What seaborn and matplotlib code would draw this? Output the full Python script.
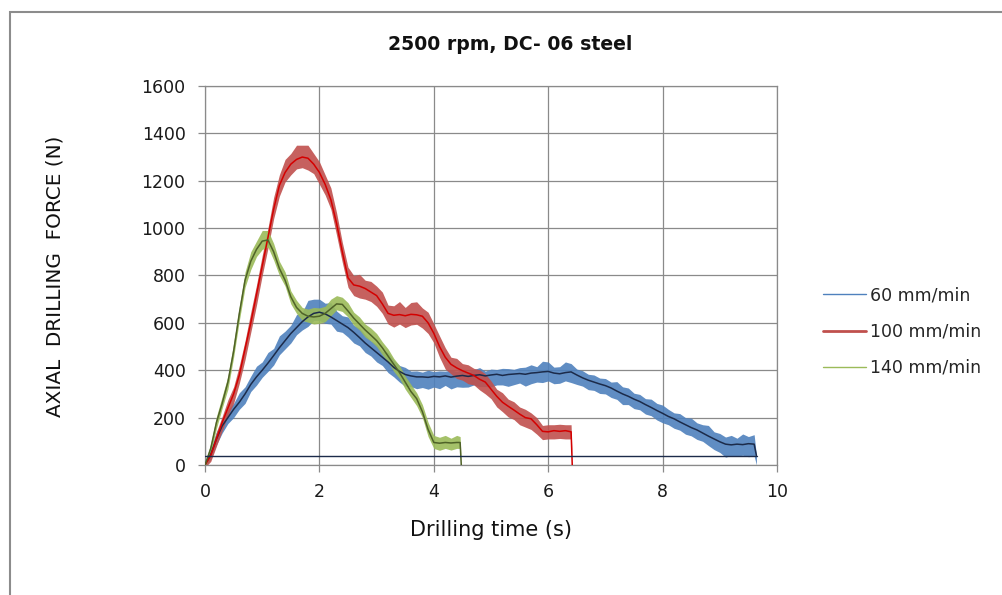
import numpy as np
import pandas as pd
import matplotlib
matplotlib.use("Agg")
import matplotlib.pyplot as plt
from matplotlib.lines import Line2D
from matplotlib.patches import Rectangle
import seaborn as sns

sns.set_theme(style="white")
plt.rcParams["font.family"] = ["DejaVu Sans"]

# ---- data ----
# 60 mm/min: time, smoothed force, noise above / below the smoothed force
t_60 = [0.0, 0.1, 0.2, 0.3, 0.4, 0.5, 0.6, 0.7, 0.8, 0.9,
        1.0, 1.1, 1.2, 1.3, 1.4, 1.5, 1.6, 1.7, 1.8, 1.9,
        2.0, 2.1, 2.2, 2.3, 2.4, 2.5, 2.6, 2.7, 2.8, 2.9,
        3.0, 3.1, 3.2, 3.3, 3.4, 3.5, 3.6, 3.7, 3.8, 3.9,
        4.0, 4.1, 4.2, 4.3, 4.4, 4.5, 4.6, 4.7, 4.8, 4.9,
        5.0, 5.1, 5.2, 5.3, 5.4, 5.5, 5.6, 5.7, 5.8, 5.9,
        6.0, 6.1, 6.2, 6.3, 6.4, 6.5, 6.6, 6.7, 6.8, 6.9,
        7.0, 7.1, 7.2, 7.3, 7.4, 7.5, 7.6, 7.7, 7.8, 7.9,
        8.0, 8.1, 8.2, 8.3, 8.4, 8.5, 8.6, 8.7, 8.8, 8.9,
        9.0, 9.1, 9.2, 9.3, 9.4, 9.5, 9.6, 9.64]
f_60 = [0, 45, 110, 165, 200, 235, 265, 300, 340, 372,
        400, 430, 462, 495, 525, 555, 580, 605, 625, 640,
        645, 638, 625, 610, 595, 580, 560, 538, 515, 495,
        475, 455, 435, 412, 395, 382, 376, 372, 372, 370,
        374, 372, 376, 371, 375, 378, 374, 378, 381, 376,
        380, 383, 378, 382, 384, 386, 383, 388, 390, 393,
        395, 388, 385, 390, 393, 380, 368, 358, 350, 342,
        335, 325, 312, 300, 290, 278, 268, 255, 243, 230,
        218, 205, 195, 182, 170, 158, 148, 135, 122, 110,
        98, 88, 85, 88, 86, 90, 88, 40]
up_60 = [10, 25, 30, 20, 35, 25, 40, 30, 35, 45,
         35, 45, 30, 50, 40, 35, 55, 40, 70, 60,
         55, 45, 60, 40, 35, 45, 30, 40, 35, 30,
         35, 25, 40, 30, 25, 30, 20, 25, 20, 30,
         20, 25, 20, 30, 20, 25, 20, 25, 30, 20,
         25, 20, 30, 25, 20, 25, 30, 35, 25, 45,
         40, 25, 30, 45, 35, 25, 30, 25, 30, 25,
         30, 25, 40, 30, 35, 25, 30, 25, 35, 30,
         35, 30, 25, 35, 30, 40, 30, 35, 45, 30,
         35, 30, 40, 25, 45, 30, 40, 0]
dn_60 = [10, 20, 25, 30, 25, 35, 30, 40, 30, 35,
         30, 35, 40, 30, 35, 40, 30, 35, 40, 30,
         35, 40, 30, 45, 35, 40, 45, 35, 40, 35,
         40, 35, 45, 40, 45, 50, 45, 50, 45, 50,
         45, 50, 40, 50, 45, 50, 45, 40, 50, 45,
         50, 45, 40, 50, 45, 40, 50, 45, 40, 45,
         40, 45, 40, 35, 45, 40, 35, 40, 35, 40,
         35, 40, 35, 45, 35, 40, 35, 40, 35, 40,
         40, 35, 40, 35, 40, 35, 40, 35, 40, 45,
         45, 55, 45, 50, 45, 55, 50, 40]

# 100 mm/min
t_100 = [0.0, 0.1, 0.2, 0.3, 0.4, 0.5, 0.6, 0.7, 0.8, 0.9,
         1.0, 1.1, 1.2, 1.3, 1.4, 1.5, 1.6, 1.7, 1.8, 1.9,
         2.0, 2.1, 2.2, 2.3, 2.4, 2.5, 2.6, 2.7, 2.8, 2.9,
         3.0, 3.1, 3.2, 3.3, 3.4, 3.5, 3.6, 3.7, 3.8, 3.9,
         4.0, 4.1, 4.2, 4.3, 4.4, 4.5, 4.6, 4.7, 4.8, 4.9,
         5.0, 5.1, 5.2, 5.3, 5.4, 5.5, 5.6, 5.7, 5.8, 5.9,
         6.0, 6.1, 6.2, 6.3, 6.4, 6.42]
f_100 = [0, 40, 110, 180, 240, 300, 380, 490, 600, 720,
         840, 960, 1080, 1180, 1235, 1270, 1290, 1300, 1295, 1270,
         1235, 1185, 1120, 1020, 900, 790, 760, 755, 745, 730,
         715, 680, 640, 632, 635, 630, 636, 634, 628, 600,
         556, 500, 455, 425, 410, 398, 388, 378, 362, 350,
         320, 290, 265, 248, 232, 215, 200, 195, 170, 142,
         140, 145, 142, 145, 140, 0]
up_100 = [10, 20, 30, 25, 35, 30, 40, 35, 45, 40,
          45, 40, 50, 45, 55, 45, 60, 50, 55, 45,
          45, 40, 50, 45, 40, 45, 40, 50, 35, 45,
          40, 50, 35, 40, 55, 35, 50, 55, 35, 45,
          40, 45, 40, 30, 40, 30, 35, 30, 40, 35,
          35, 30, 40, 30, 35, 30, 35, 25, 30, 25,
          30, 25, 30, 25, 30, 0]
dn_100 = [10, 25, 30, 35, 30, 40, 35, 45, 40, 45,
          40, 45, 40, 45, 40, 45, 40, 45, 50, 40,
          50, 45, 40, 50, 45, 40, 45, 50, 45, 40,
          45, 40, 45, 50, 40, 50, 45, 40, 50, 45,
          40, 45, 50, 40, 45, 40, 45, 40, 45, 50,
          40, 45, 40, 45, 40, 45, 40, 45, 40, 35,
          30, 35, 30, 35, 30, 0]

# 140 mm/min
t_140 = [0.0, 0.1, 0.2, 0.3, 0.4, 0.5, 0.6, 0.7, 0.8, 0.9,
         1.0, 1.1, 1.2, 1.3, 1.4, 1.5, 1.6, 1.7, 1.8, 1.9,
         2.0, 2.1, 2.2, 2.3, 2.4, 2.5, 2.6, 2.7, 2.8, 2.9,
         3.0, 3.1, 3.2, 3.3, 3.4, 3.5, 3.6, 3.7, 3.8, 3.9,
         4.0, 4.1, 4.2, 4.3, 4.4, 4.46, 4.48]
f_140 = [0, 70, 180, 260, 350, 480, 640, 780, 860, 910,
         945, 950, 900, 830, 780, 710, 665, 640, 628, 625,
         628, 640, 660, 680, 678, 650, 620, 595, 570, 548,
         525, 495, 460, 425, 390, 350, 310, 280, 225, 150,
         95, 92, 95, 93, 95, 95, 0]
up_140 = [10, 20, 25, 30, 25, 35, 30, 35, 40, 35,
          45, 40, 35, 30, 35, 25, 30, 25, 30, 40,
          35, 30, 40, 35, 30, 35, 25, 30, 25, 30,
          30, 25, 30, 25, 30, 25, 30, 25, 30, 30,
          30, 25, 30, 20, 30, 25, 0]
dn_140 = [10, 20, 25, 20, 30, 25, 30, 30, 35, 30,
          35, 30, 35, 30, 25, 30, 25, 30, 25, 30,
          30, 35, 30, 25, 30, 25, 30, 25, 30, 25,
          25, 30, 25, 30, 25, 30, 25, 30, 25, 30,
          25, 30, 25, 30, 25, 25, 0]

base_time = [0.0, 9.65]
base_force = [40, 40]

labels = ["60 mm/min", "100 mm/min", "140 mm/min"]
raw_colors = ["#4F81BD", "#C0504D", "#9BBB59"]
trend_colors = ["#1C2B4A", "#D40000", "#4F6228"]
legend_widths = [1.0, 2.0, 1.0]

series = [(t_60, f_60, up_60, dn_60),
          (t_100, f_100, up_100, dn_100),
          (t_140, f_140, up_140, dn_140)]

# ---- figure ----
fig = plt.figure(figsize=(10.03, 5.95), dpi=100)
ax = fig.add_axes([0.2044, 0.2185, 0.5703, 0.637])

grey = "#8A8A8A"

# raw (noisy) signals as a band around the smoothed force
for (t, f, up, dn), col in zip(series, raw_colors):
    f = np.array(f, dtype=float)
    ax.fill_between(t, f - np.array(dn), f + np.array(up),
                    color=col, alpha=0.9, lw=0, zorder=2)

# smoothed trend lines
for (t, f, up, dn), col in zip(series, trend_colors):
    df = pd.DataFrame({"time": t, "force": f})
    sns.lineplot(data=df, x="time", y="force", color=col, lw=1.1,
                 estimator=None, sort=False, ax=ax, zorder=3, legend=False)

sns.lineplot(x=base_time, y=base_force, color=trend_colors[0], lw=1.0,
             estimator=None, ax=ax, zorder=3, legend=False)

ax.set_xlim(0, 10)
ax.set_ylim(0, 1600)
ax.set_xticks(np.arange(0, 11, 2))
ax.set_yticks(np.arange(0, 1601, 200))
ax.grid(True, color=grey, lw=0.9)
ax.set_axisbelow(True)
for sp in ax.spines.values():
    sp.set_color(grey)
    sp.set_linewidth(0.9)
ax.tick_params(axis="both", direction="out", length=5, width=0.9,
               color=grey, labelsize=12.5, labelcolor="#1a1a1a",
               left=True, bottom=True)
ax.tick_params(axis="y", pad=9)
ax.tick_params(axis="x", pad=8)
ax.set_xlabel("")
ax.set_ylabel("")

fig.text(0.5085, 0.926, "2500 rpm, DC- 06 steel", ha="center", va="center",
         fontsize=13.6, fontweight="bold", color="#111111")
fig.text(0.4895, 0.109, "Drilling time (s)", ha="center", va="center",
         fontsize=15, color="#111111")
fig.text(0.055, 0.536, "AXIAL  DRILLING  FORCE (N)", ha="center", va="center",
         rotation=90, fontsize=14.4, color="#111111")

handles = [Line2D([0], [0], color=c, lw=w) for c, w in zip(raw_colors, legend_widths)]
fig.legend(handles, labels, loc="center left", bbox_to_anchor=(0.8205, 0.4425),
           frameon=False, fontsize=12.5, handlelength=2.47, handletextpad=0.25,
           labelspacing=1.05, borderpad=0, borderaxespad=0)

fig.patches.append(Rectangle((0.01, -0.05), 1.1, 1.03, transform=fig.transFigure,
                             fill=False, edgecolor="#8C8C8C", lw=1.5))

fig.savefig("out.png", dpi=100)
